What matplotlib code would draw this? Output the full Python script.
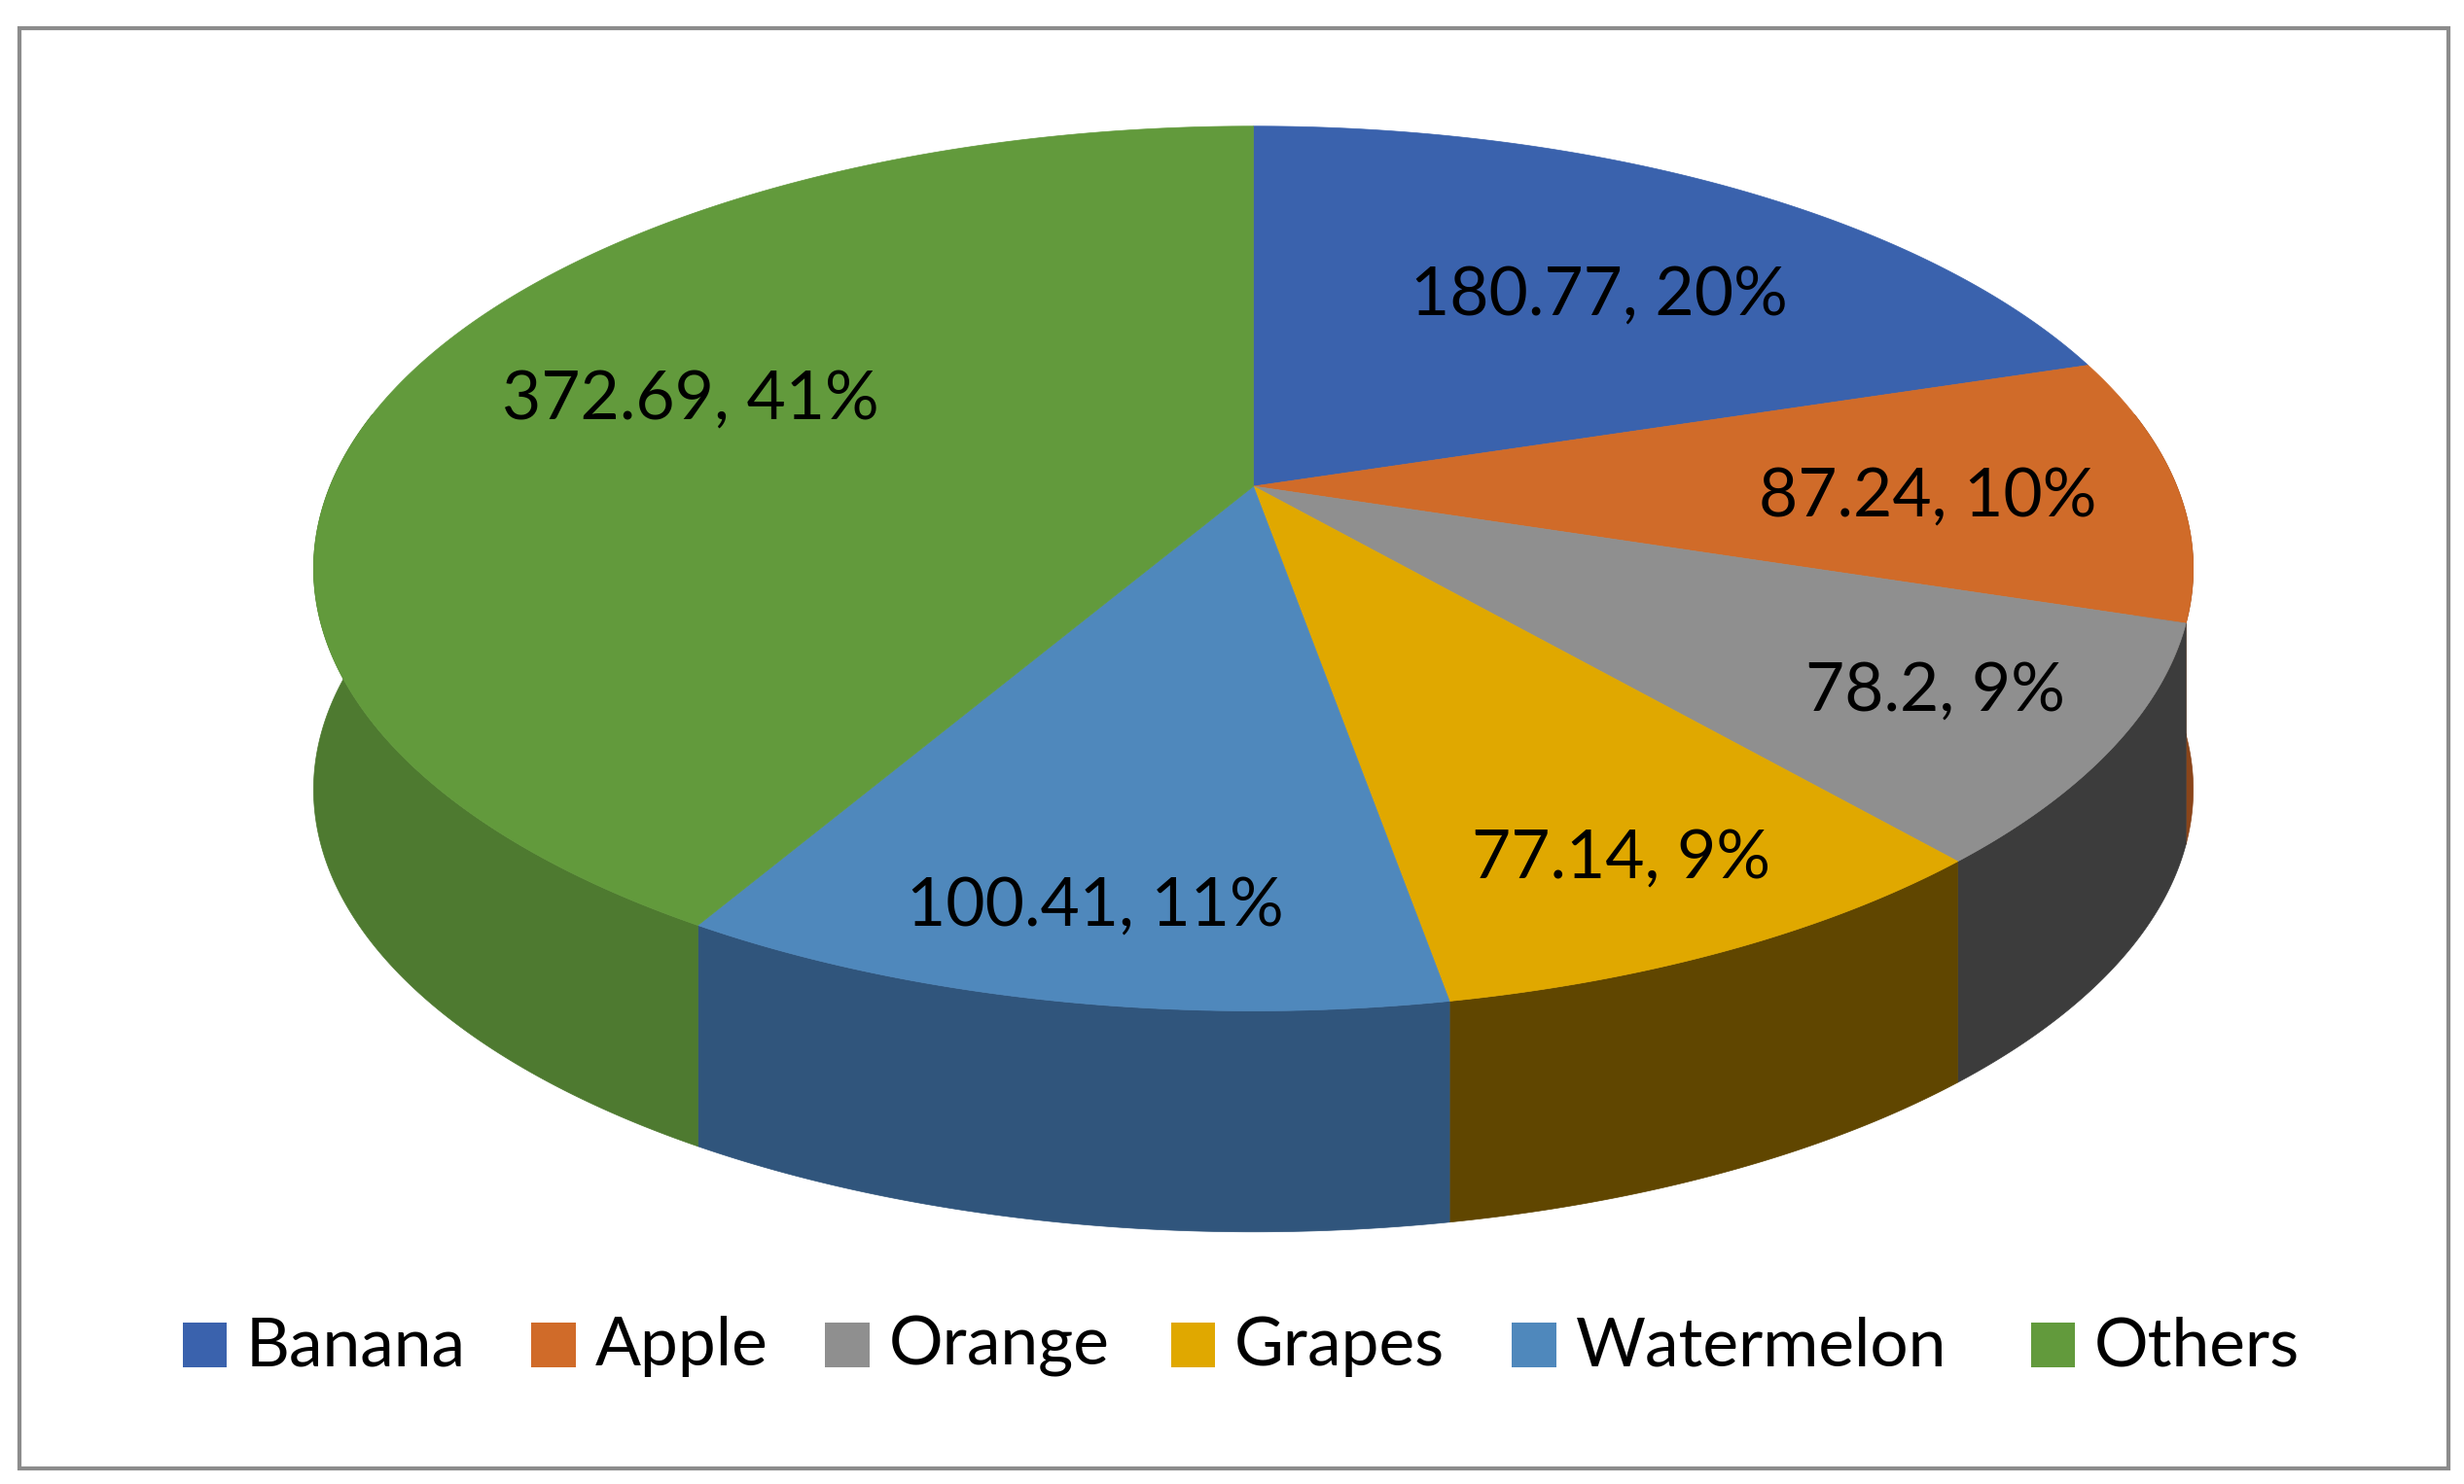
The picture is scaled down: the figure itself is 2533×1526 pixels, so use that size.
import numpy as np
import matplotlib.pyplot as plt
from matplotlib.patches import Polygon, Rectangle

fruits = ["Banana", "Apple", "Orange", "Grapes", "Watermelon", "Others"]
amounts = [180.77, 87.24, 78.2, 77.14, 100.41, 372.69]
labels = ["180.77, 20%", "87.24, 10%", "78.2, 9%", "77.14, 9%", "100.41, 11%", "372.69, 41%"]
top_colors = ["#3A62AD", "#D06B29", "#8F8F8F", "#E0A800", "#4F88BC", "#629A3C"]
side_colors = ["#2A4A85", "#8A451A", "#3C3C3C", "#604600", "#30557C", "#4E7A30"]
label_pos = [(1008, 187), (1215, 315), (1220, 438), (1022, 544), (690, 574), (435, 253)]

plt.rcParams['font.family'] = ['Lato', 'DejaVu Sans']
W, H = 1553, 940
fig = plt.figure(figsize=(25.33, 15.26), dpi=100)
ax = fig.add_axes([0, 0, 1, 1])
ax.set_xlim(0, W)
ax.set_ylim(H, 0)
ax.axis("off")

# perspective-projected disk
x0, y0, sx, sy, k, depth = 790, 308, 582, 270.5, 0.186, 140

def arc(t0, t1, n=200):
    t = np.radians(np.linspace(t0, t1, n))
    u, v = np.cos(t), np.sin(t)
    return np.column_stack([x0 + sx * u / (1 + k * v), y0 - sy * v / (1 + k * v)])

total = sum(amounts)
start = 90.0
spans = []
for v in amounts:
    sweep = v / total * 360
    spans.append((start - sweep, start))
    start -= sweep

# side walls (visible where the arc is in the near half)
for (t0, t1), col in zip(spans, side_colors):
    for lo, hi in [(-190, 10), (170, 370)]:
        s0, s1 = max(t0, lo), min(t1, hi)
        if s1 > s0:
            pts = arc(s0, s1)
            low = pts[::-1] + [0, depth]
            ax.add_patch(Polygon(np.vstack([pts, low]), closed=True, fc=col, ec=col, lw=0.5))

# top faces
for (t0, t1), col in zip(spans, top_colors):
    pts = np.vstack([[(x0, y0)], arc(t1, t0)])
    ax.add_patch(Polygon(pts, closed=True, fc=col, ec=col, lw=0.5))

for txt, (x, y) in zip(labels, label_pos):
    ax.text(x, y, txt, ha="center", va="center", fontsize=50, color="black")

# legend
lx = [115, 335, 520, 738, 953, 1280]
for x, name, col in zip(lx, fruits, top_colors):
    ax.add_patch(Rectangle((x, 838), 28, 28, fc=col, ec="none"))
    ax.text(x + 40, 853, name, ha="left", va="center", fontsize=50, color="black")

ax.add_patch(Rectangle((12, 18), 1531, 912, fill=False, ec="#8C8C8C", lw=3))

fig.savefig("out.png")
